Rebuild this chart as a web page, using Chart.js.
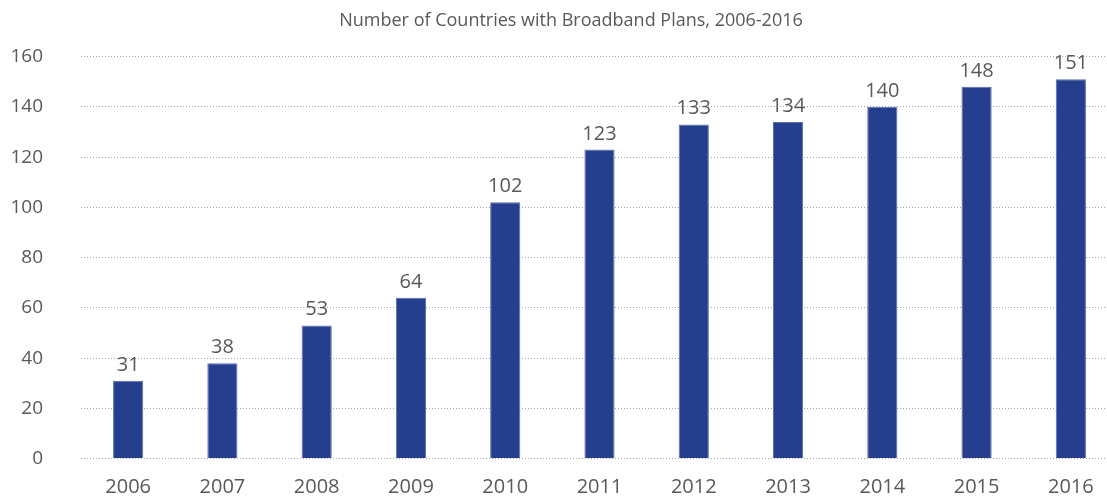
<!DOCTYPE html>
<html>
<head>
<meta charset="utf-8">
<script src="https://cdn.jsdelivr.net/npm/chart.js@4/dist/chart.umd.min.js"></script>
<style>
  html, body { margin: 0; padding: 0; background: #fff; overflow: hidden; }
  #wrap { width: 1134px; height: 508px; }
</style>
</head>
<body>
<div id="wrap"><canvas id="chart" width="1134" height="508"></canvas></div>
<script>
// data
const years = ['2006', '2007', '2008', '2009', '2010', '2011', '2012', '2013', '2014', '2015', '2016'];
const countries = [31, 38, 53, 64, 102, 123, 133, 134, 140, 148, 151];
const yTicks = [0, 20, 40, 60, 80, 100, 120, 140, 160];

const FONT = "'Open Sans', sans-serif";
const TEXT = '#595959';

// value labels above each bar
const barLabels = {
  id: 'barLabels',
  afterDatasetsDraw(chart) {
    const ctx = chart.ctx;
    const meta = chart.getDatasetMeta(0);
    ctx.save();
    ctx.font = `400 20px ${FONT}`;
    ctx.fillStyle = TEXT;
    ctx.textAlign = 'center';
    ctx.textBaseline = 'alphabetic';
    meta.data.forEach((bar, i) => {
      ctx.fillText(String(countries[i]), bar.x, bar.y - 10);
    });
    ctx.restore();
  }
};

new Chart(document.getElementById('chart'), {
  type: 'bar',
  data: {
    labels: years,
    datasets: [{
      data: countries,
      backgroundColor: '#253f8e',
      borderColor: '#5a6fb0',
      borderWidth: 1,
      categoryPercentage: 1,
      barPercentage: 0.32
    }]
  },
  options: {
    responsive: false,
    animation: false,
    layout: { padding: { left: 8, right: 0, top: 0, bottom: 0 } },
    plugins: {
      legend: { display: false },
      tooltip: { enabled: false },
      title: {
        display: true,
        text: 'Number of Countries with Broadband Plans, 2006-2016',
        color: TEXT,
        font: { family: FONT, size: 18, weight: 400 },
        padding: { top: 10, bottom: 25 }
      }
    },
    scales: {
      x: {
        grid: { display: false, drawTicks: false },
        border: { display: false },
        ticks: { color: TEXT, font: { family: FONT, size: 20, weight: 400 }, padding: 17 },
        afterFit: axis => { axis.height = 44; }
      },
      y: {
        min: 0,
        max: 160,
        afterBuildTicks: axis => { axis.ticks = yTicks.map(v => ({ value: v })); },
        grid: { color: '#a6a6a6', lineWidth: 1, drawTicks: false },
        border: { display: false, dash: [1, 2] },
        ticks: { color: TEXT, font: { family: FONT, size: 19, weight: 400 }, padding: 38 },
        afterFit: axis => { axis.width = 73; }
      },
      // empty right-hand spacer so the title centres where the original does
      yRight: {
        position: 'right',
        grid: { display: false, drawTicks: false },
        border: { display: false },
        ticks: { display: false },
        afterFit: axis => { axis.width = 16; }
      }
    }
  },
  plugins: [barLabels]
});
</script>
</body>
</html>
